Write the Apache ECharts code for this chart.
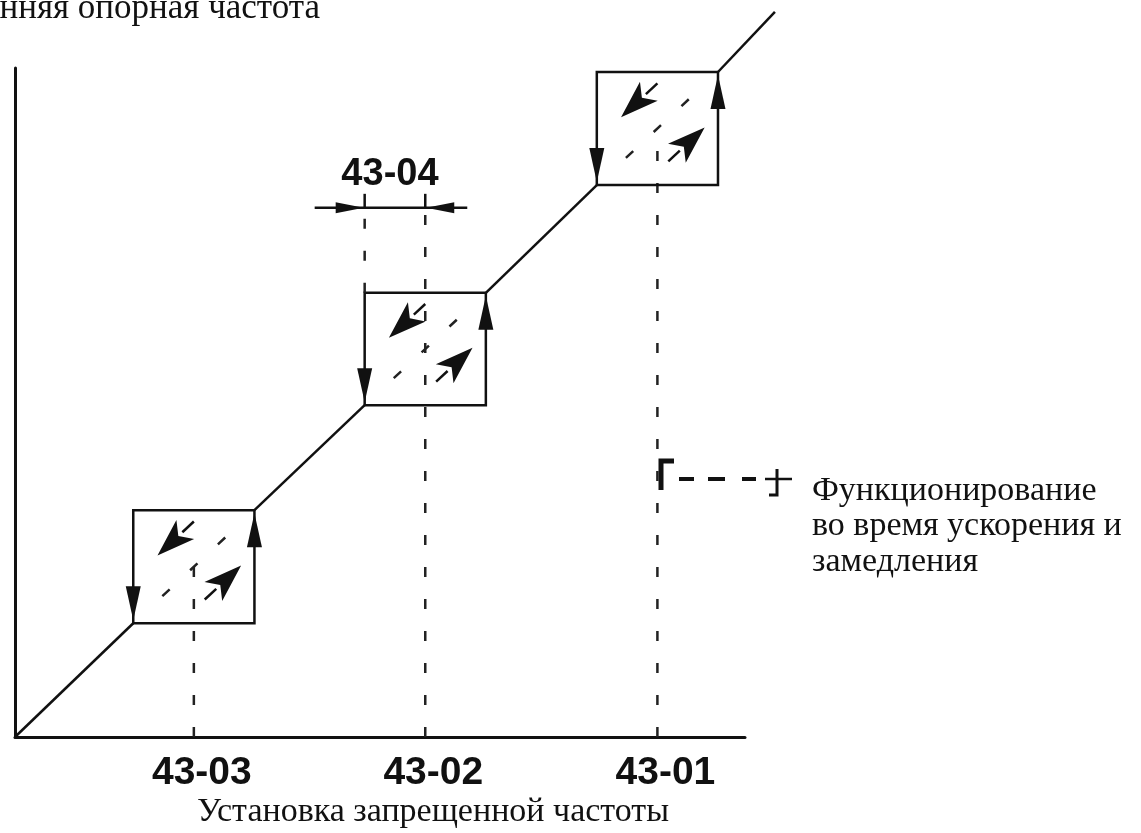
<!DOCTYPE html>
<html><head><meta charset="utf-8">
<script src="https://cdn.jsdelivr.net/npm/echarts@6/dist/echarts.min.js"></script>
<style>html,body{margin:0;padding:0;background:#fff}#c{width:1141px;height:833px}</style>
</head><body><div id="c"></div>
<script>
// ---- data (x: frequency reference setting, y: internal frequency reference), arbitrary % units ----
const jumpLabels = ['43-03', '43-02', '43-01'];
const jumpFreq = [24.5, 56.2, 88.0];
const jumpBandwidth = 8.3;            // 43-04
const bandLabel = '43-04';
const outLower = [17.0, 49.6, 82.5];
const outUpper = [33.9, 66.4, 99.4];
const pathStart = [0, 0];
const pathEnd = [104.1, 108.4];
const bandMarkerY = 79.1;
const markerBox = 1;
const axisMax = [100, 100];

const yTitle = 'Внутренняя опорная частота';
const xTitle = 'Установка запрещенной частоты';
const legendLines = ['Функционирование', 'во время ускорения и', 'замедления'];

// ---- build ----
const INK = '#111';
const SERIF = "'Liberation Serif', 'DejaVu Serif', serif";
const NUM = "'Liberation Sans', Arial, sans-serif";

const pathSegments = [];
let prev = pathStart;
for (let i = 0; i < jumpFreq.length; i++) {
  pathSegments.push([prev[0], prev[1], jumpFreq[i] - jumpBandwidth, outLower[i]]);
  prev = [jumpFreq[i] + jumpBandwidth, outUpper[i]];
}
pathSegments.push([prev[0], prev[1], pathEnd[0], pathEnd[1]]);

function arrow(tail, tip, headLen, headHalf, notchK, lw, withShaft) {
  const dx = tip[0] - tail[0], dy = tip[1] - tail[1];
  const L = Math.hypot(dx, dy), ux = dx / L, uy = dy / L;
  const bx = tip[0] - ux * headLen, by = tip[1] - uy * headLen;
  const nx = -uy, ny = ux;
  const notch = [tip[0] - ux * headLen * notchK, tip[1] - uy * headLen * notchK];
  const out = [];
  if (withShaft) out.push({type: 'line', shape: {x1: tail[0], y1: tail[1], x2: bx + ux * 4, y2: by + uy * 4}, style: {stroke: INK, lineWidth: lw}});
  out.push({type: 'polygon', shape: {points: [tip, [bx + nx * headHalf, by + ny * headHalf], notch, [bx - nx * headHalf, by - ny * headHalf]]}, style: {fill: INK}});
  return out;
}

function renderPath(params, api) {
  const a = api.coord([api.value(0), api.value(1)]);
  const b = api.coord([api.value(2), api.value(3)]);
  return {type: 'line', shape: {x1: a[0], y1: a[1], x2: b[0], y2: b[1]}, style: {stroke: INK, lineWidth: 2.5}};
}

const boxData = jumpFreq.map((f, i) => [f, outLower[i], outUpper[i], i === markerBox ? bandMarkerY : (outLower[i] + outUpper[i]) / 2]);

function renderBox(params, api) {
  const f = api.value(0), lo = api.value(1), hi = api.value(2), vt = api.value(3);
  const pBL = api.coord([f - jumpBandwidth, lo]);
  const pTR = api.coord([f + jumpBandwidth, hi]);
  const pAxis = api.coord([f, 0]);
  const pVt = api.coord([f, vt]);
  const x0 = pBL[0], y0 = pTR[1], w = pTR[0] - pBL[0], h = pBL[1] - pTR[1];
  const at = (fx, fy) => [x0 + fx * w, y0 + fy * h];
  const d1 = at(0.24, 0.76), d2 = at(0.76, 0.24);
  let children = [
    {type: 'line', shape: {x1: pAxis[0], y1: pAxis[1], x2: pVt[0], y2: pVt[1]}, style: {stroke: '#222', lineWidth: 2.5, lineDash: [10, 22]}},
    {type: 'line', shape: {x1: d1[0], y1: d1[1], x2: d2[0], y2: d2[1]}, style: {stroke: '#222', lineWidth: 2.5, lineDash: [10, 28]}},
    {type: 'rect', shape: {x: x0, y: y0, width: w, height: h}, style: {fill: null, stroke: INK, lineWidth: 2.5}}
  ];
  children = children.concat(arrow([x0, y0 + h - 40], [x0, y0 + h - 3], 34, 7.5, 1, 2.5, false));
  children = children.concat(arrow([x0 + w, y0 + 40], [x0 + w, y0 + 3], 34, 7.5, 1, 2.5, false));
  children = children.concat(arrow(at(0.50, 0.10), at(0.2, 0.4), 38, 13, 0.75, 2.5, true));
  children = children.concat(arrow(at(0.59, 0.79), at(0.89, 0.49), 38, 13, 0.75, 2.5, true));
  return {type: 'group', children};
}

const markerData = [[jumpFreq[markerBox] - jumpBandwidth, jumpFreq[markerBox], bandMarkerY, outUpper[markerBox]]];

function renderMarker(params, api) {
  const xl = api.value(0), xc = api.value(1), my = api.value(2), top = api.value(3);
  const pL = api.coord([xl, my]), pC = api.coord([xc, my]), pTop = api.coord([xl, top]);
  const y = pL[1];
  let children = [
    {type: 'line', shape: {x1: pL[0], y1: pTop[1], x2: pL[0], y2: y}, style: {stroke: '#222', lineWidth: 2.5, lineDash: [10, 22]}},
    {type: 'line', shape: {x1: pL[0] - 50, y1: y, x2: pC[0] + 42, y2: y}, style: {stroke: INK, lineWidth: 2.5}},
    {type: 'line', shape: {x1: pL[0], y1: y, x2: pL[0], y2: y - 14}, style: {stroke: INK, lineWidth: 2.5}},
    {type: 'line', shape: {x1: pC[0], y1: y, x2: pC[0], y2: y - 14}, style: {stroke: INK, lineWidth: 2.5}},
    {type: 'text', x: (pL[0] + pC[0]) / 2 - 5, y: y - 33, style: {text: bandLabel, font: 'bold 38px ' + NUM, fill: INK, align: 'center', verticalAlign: 'middle'}}
  ];
  children = children.concat(arrow([pL[0] - 40, y], [pL[0] - 1, y], 28, 5.5, 1, 2.5, false));
  children = children.concat(arrow([pC[0] + 40, y], [pC[0] + 1, y], 28, 5.5, 1, 2.5, false));
  return {type: 'group', children};
}

const chart = echarts.init(document.getElementById('c'), null, {renderer: 'canvas'});
chart.setOption({
  animation: false,
  backgroundColor: '#fff',
  grid: {left: 15, right: 396, top: 68, bottom: 96, containLabel: false},
  xAxis: {
    type: 'value', min: 0, max: axisMax[0],
    axisLine: {show: true, onZero: false, lineStyle: {color: INK, width: 3}},
    axisTick: {show: false}, splitLine: {show: false},
    axisLabel: {
      show: true, customValues: jumpFreq, margin: 17,
      formatter: v => jumpLabels[jumpFreq.indexOf(v)] || '',
      fontFamily: NUM, fontWeight: 'bold', fontSize: 39, color: INK,
      padding: [0, 0, 0, 16]
    }
  },
  yAxis: {
    type: 'value', min: 0, max: axisMax[1],
    axisLine: {show: true, onZero: false, lineStyle: {color: INK, width: 3}},
    axisTick: {show: false}, splitLine: {show: false}, axisLabel: {show: false}
  },
  graphic: [
    {type: 'text', x: 320, y: 9, style: {text: yTitle, font: '35px ' + SERIF, fill: INK, align: 'right', verticalAlign: 'middle'}},
    {type: 'text', x: 433, y: 812, style: {text: xTitle, font: '34px ' + SERIF, fill: INK, align: 'center', verticalAlign: 'middle'}},
    {type: 'text', x: 812, y: 491, style: {text: legendLines[0], font: '34px ' + SERIF, fill: INK, align: 'left', verticalAlign: 'middle'}},
    {type: 'text', x: 812, y: 526, style: {text: legendLines[1], font: '34px ' + SERIF, fill: INK, align: 'left', verticalAlign: 'middle'}},
    {type: 'text', x: 812, y: 562, style: {text: legendLines[2], font: '34px ' + SERIF, fill: INK, align: 'left', verticalAlign: 'middle'}},
    {type: 'polyline', shape: {points: [[661, 490], [661, 461], [674, 461]]}, style: {stroke: INK, lineWidth: 5, fill: null}},
    {type: 'line', shape: {x1: 679, y1: 479, x2: 694, y2: 479}, style: {stroke: INK, lineWidth: 4}},
    {type: 'line', shape: {x1: 708, y1: 479, x2: 725, y2: 479}, style: {stroke: INK, lineWidth: 4}},
    {type: 'line', shape: {x1: 742, y1: 479, x2: 756, y2: 479}, style: {stroke: INK, lineWidth: 4}},
    {type: 'line', shape: {x1: 765, y1: 479, x2: 792, y2: 479}, style: {stroke: INK, lineWidth: 2.5}},
    {type: 'polyline', shape: {points: [[777, 469], [777, 495], [769, 495]]}, style: {stroke: INK, lineWidth: 3, fill: null}}
  ],
  series: [
    {type: 'custom', renderItem: renderPath, data: pathSegments, clip: false, silent: true},
    {type: 'custom', renderItem: renderBox, data: boxData, clip: false, silent: true},
    {type: 'custom', renderItem: renderMarker, data: markerData, clip: false, silent: true}
  ]
});
</script>
</body></html>
